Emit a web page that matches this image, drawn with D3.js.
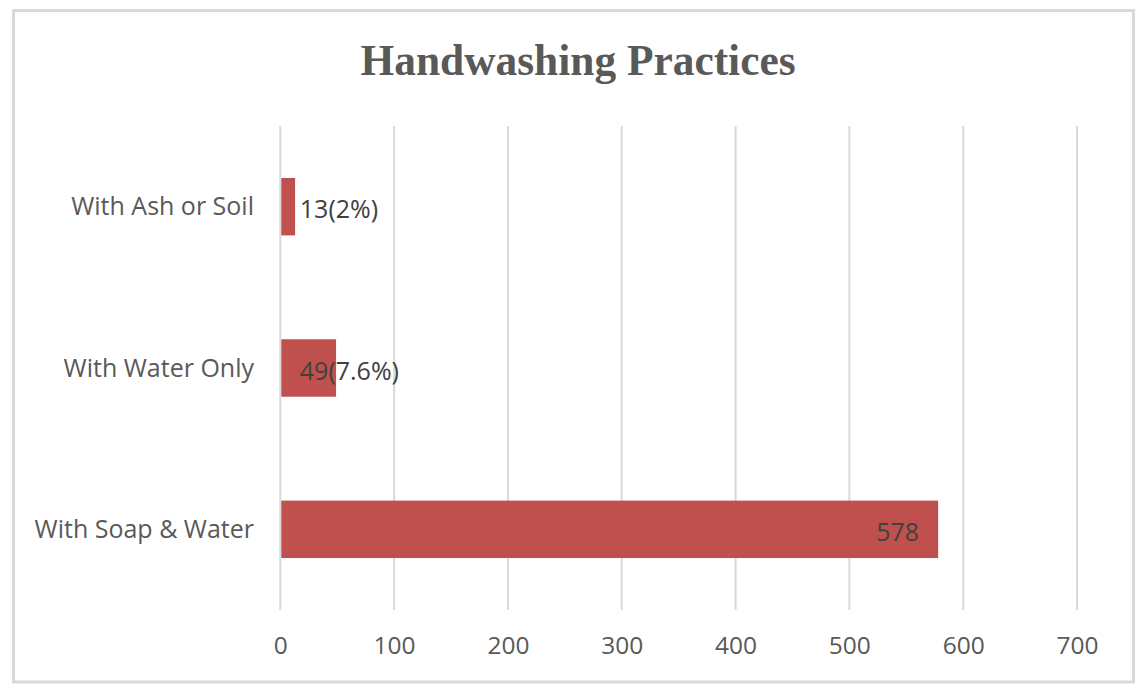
<!DOCTYPE html>
<html>
<head>
<meta charset="utf-8">
<script src="https://cdn.jsdelivr.net/npm/d3@7/dist/d3.min.js"></script>
<style>
  html, body { margin: 0; padding: 0; background: #ffffff; }
  svg { display: block; }
</style>
</head>
<body>
<svg id="chart" width="1148" height="697"></svg>
<script>
const categories = ["With Ash or Soil", "With Water Only", "With Soap & Water"];
const values = [13, 49, 578];
const labels = ["13(2%)", "49(7.6%)", "578"];
const tickValues = [0, 100, 200, 300, 400, 500, 600, 700];
const title = "Handwashing Practices";

const svg = d3.select("#chart");
const W = 1148, H = 697;
const margin = { left: 280.3, right: 1148 - 1077, top: 126, bottom: 697 - 610 };

// outer frame
svg.append("rect")
  .attr("x", 13.5).attr("y", 10.5)
  .attr("width", 1133.5 - 13.5).attr("height", 682 - 10.5)
  .attr("fill", "#ffffff").attr("stroke", "#d9d9d9").attr("stroke-width", 3);

const x = d3.scaleLinear().domain([0, 700]).range([margin.left, W - margin.right]);
const y = d3.scaleBand().domain(categories).range([margin.top, H - margin.bottom])
  .paddingInner(0.644).paddingOuter(0.322);

// gridlines
svg.append("g").selectAll("line").data(tickValues).join("line")
  .attr("x1", d => x(d)).attr("x2", d => x(d))
  .attr("y1", margin.top).attr("y2", H - margin.bottom)
  .attr("stroke", "#d9d9d9").attr("stroke-width", 2);

// bars
svg.append("g").selectAll("rect").data(values).join("rect")
  .attr("x", x(0) + 1)
  .attr("y", (d, i) => y(categories[i]))
  .attr("width", d => x(d) - x(0) - 1)
  .attr("height", y.bandwidth())
  .attr("fill", "#c0504d");

// x tick labels via axis
const xAxis = d3.axisBottom(x).tickValues(tickValues).tickSize(0).tickPadding(0).tickFormat(d3.format("d"));
const gx = svg.append("g").attr("transform", `translate(0, ${654})`).call(xAxis);
gx.select(".domain").remove();
gx.selectAll("text")
  .attr("dy", 0).attr("y", 0)
  .attr("fill", "#595959")
  .style("font-family", "'Open Sans', sans-serif")
  .style("font-size", "24.5px");

// y category labels via axis
const yAxis = d3.axisLeft(y).tickSize(0).tickPadding(0);
const gy = svg.append("g").attr("transform", `translate(${254}, 0)`).call(yAxis);
gy.select(".domain").remove();
gy.selectAll("text")
  .attr("dy", "0.34em")
  .attr("fill", "#595959")
  .style("font-family", "'Open Sans', sans-serif")
  .style("font-size", "25px");

// data labels
svg.append("g").selectAll("text").data(values).join("text")
  .attr("x", d => d > 100 ? x(d) - 19 : x(0) + 19.5)
  .attr("y", (d, i) => y(categories[i]) + y.bandwidth() / 2)
  .attr("dy", "0.46em")
  .attr("text-anchor", d => d > 100 ? "end" : "start")
  .attr("fill", "#404040")
  .style("font-family", "'Open Sans', sans-serif")
  .style("font-size", "25px")
  .text((d, i) => labels[i]);

// title
svg.append("text")
  .attr("x", 578).attr("y", 75)
  .attr("text-anchor", "middle")
  .attr("fill", "#595959")
  .style("font-family", "'Liberation Serif', 'Times New Roman', serif")
  .style("font-weight", "bold")
  .style("font-size", "43.4px")
  .text(title);
</script>
</body>
</html>
